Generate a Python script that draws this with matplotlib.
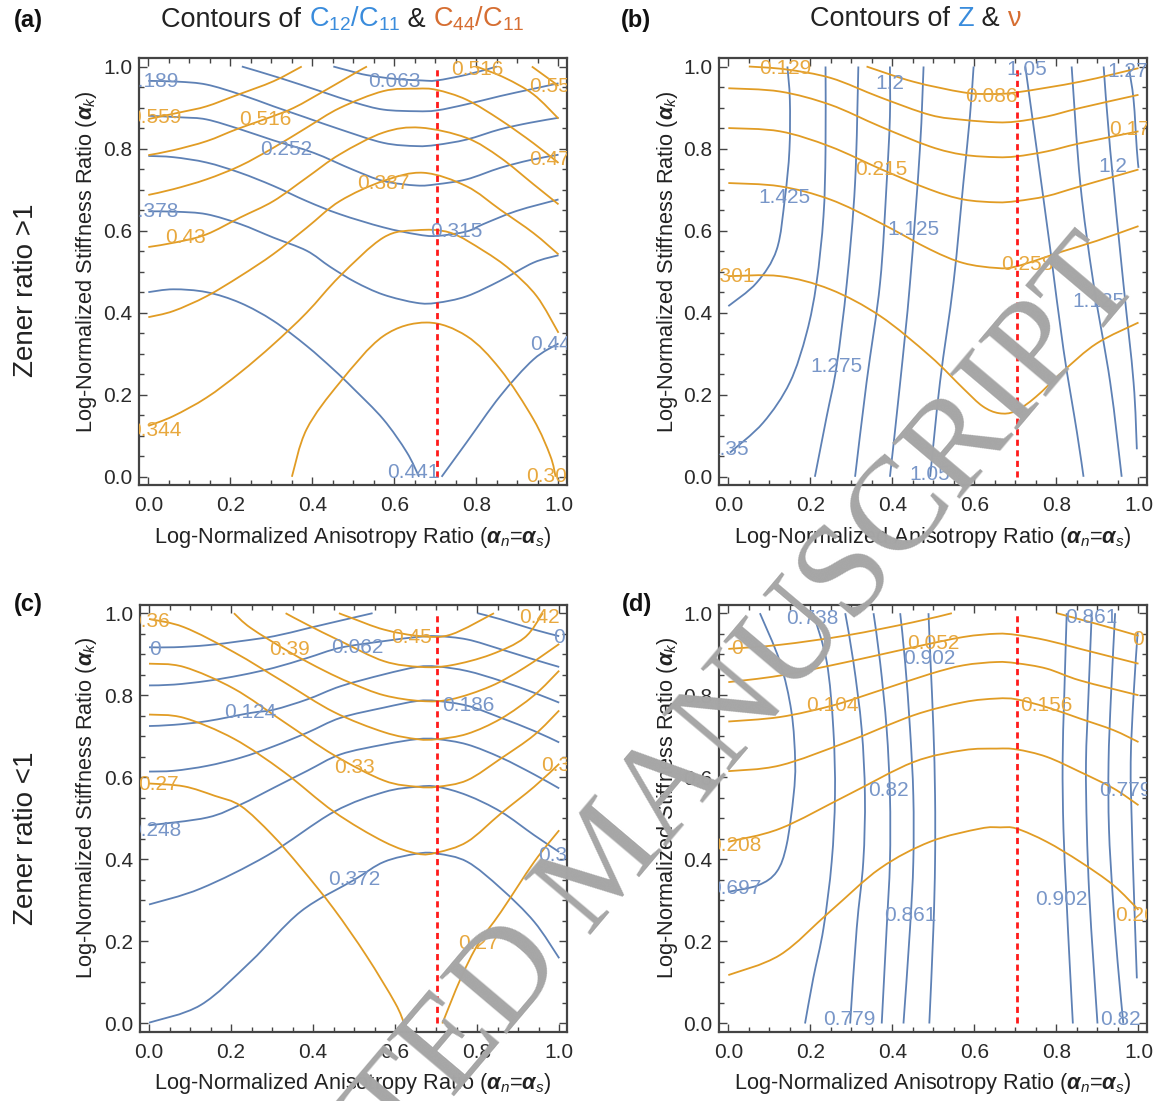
import matplotlib
matplotlib.use("Agg")
import matplotlib.pyplot as plt
import numpy as np
from matplotlib.path import Path
from matplotlib.patches import PathPatch
from matplotlib.offsetbox import TextArea, HPacker, AnnotationBbox

plt.rcParams['font.family'] = ['Liberation Sans', 'DejaVu Sans']
plt.rcParams['mathtext.fontset'] = 'custom'
plt.rcParams['mathtext.rm'] = 'Liberation Sans'
plt.rcParams['mathtext.it'] = 'Liberation Sans:italic'
plt.rcParams['mathtext.bf'] = 'Liberation Sans:bold'
plt.rcParams['mathtext.bfit'] = 'Liberation Sans:italic:bold'

# ---------------- data: panel (a) C12/C11 (blue) ----------------
A_B_0063 = [(0.451, 1.0), (0.492, 0.989), (0.533, 0.979), (0.60, 0.970), (0.667, 0.966), (0.703, 0.966), (0.776, 0.980), (0.85, 1.0)]
A_B_0126 = [(0.228, 1.0), (0.321, 0.972), (0.419, 0.940), (0.504, 0.912), (0.573, 0.895), (0.654, 0.891), (0.703, 0.893), (0.776, 0.908), (0.858, 0.928), (0.931, 0.944), (1.0, 0.959)]
A_B_0189 = [(0.0, 0.965), (0.073, 0.963), (0.142, 0.956), (0.224, 0.932), (0.305, 0.903), (0.386, 0.875), (0.467, 0.847), (0.573, 0.814), (0.654, 0.806), (0.703, 0.809), (0.776, 0.822), (0.858, 0.847), (0.931, 0.863), (1.0, 0.875)]
A_B_0252 = [(0.0, 0.880), (0.081, 0.876), (0.142, 0.871), (0.224, 0.847), (0.305, 0.820), (0.402, 0.790), (0.50, 0.748), (0.573, 0.721), (0.654, 0.710), (0.703, 0.713), (0.776, 0.725), (0.858, 0.753), (0.931, 0.772), (1.0, 0.785)]
A_B_0315 = [(0.0, 0.782), (0.061, 0.779), (0.142, 0.766), (0.224, 0.741), (0.305, 0.709), (0.386, 0.672), (0.467, 0.640), (0.573, 0.608), (0.654, 0.591), (0.703, 0.587), (0.776, 0.598), (0.817, 0.616), (0.898, 0.648), (1.0, 0.676)]
A_B_0378 = [(0.0, 0.647), (0.069, 0.646), (0.142, 0.640), (0.224, 0.616), (0.305, 0.583), (0.386, 0.551), (0.443, 0.512), (0.504, 0.475), (0.573, 0.444), (0.654, 0.424), (0.703, 0.424), (0.776, 0.440), (0.858, 0.478), (0.939, 0.522), (1.0, 0.540)]
A_B_0441_L = [(0.0, 0.450), (0.061, 0.457), (0.142, 0.450), (0.224, 0.424), (0.305, 0.380), (0.386, 0.319), (0.451, 0.262), (0.50, 0.215), (0.573, 0.140), (0.630, 0.060), (0.660, 0.0)]
A_B_0441_R = [(0.715, 0.0), (0.776, 0.084), (0.858, 0.197), (0.939, 0.286), (1.0, 0.325)]
# panel (a) C44/C11 (orange)
A_O_0559_L = [(0.0, 0.872), (0.081, 0.889), (0.142, 0.903), (0.215, 0.930), (0.305, 0.964), (0.374, 1.0)]
A_O_0559_R = [(0.935, 1.0), (1.0, 0.953)]
A_O_0516_L = [(0.0, 0.784), (0.061, 0.796), (0.142, 0.818), (0.215, 0.847), (0.285, 0.872), (0.354, 0.899), (0.435, 0.944), (0.504, 0.984), (0.533, 1.0)]
A_O_0516_R = [(0.80, 1.0), (0.870, 0.972), (0.939, 0.932), (1.0, 0.873)]
A_O_0473 = [(0.0, 0.687), (0.061, 0.701), (0.142, 0.725), (0.224, 0.758), (0.305, 0.802), (0.386, 0.851), (0.467, 0.899), (0.573, 0.940), (0.654, 0.946), (0.703, 0.943), (0.776, 0.919), (0.858, 0.870), (0.939, 0.813), (1.0, 0.765)]
A_O_0430 = [(0.0, 0.560), (0.07, 0.572), (0.142, 0.591), (0.224, 0.632), (0.305, 0.672), (0.386, 0.729), (0.467, 0.786), (0.573, 0.839), (0.663, 0.851), (0.776, 0.826), (0.858, 0.778), (0.939, 0.713), (1.0, 0.664)]
A_O_0387 = [(0.0, 0.389), (0.061, 0.404), (0.142, 0.440), (0.224, 0.489), (0.305, 0.543), (0.386, 0.607), (0.467, 0.672), (0.573, 0.721), (0.671, 0.741), (0.776, 0.708), (0.858, 0.651), (0.939, 0.594), (1.0, 0.542)]
A_O_0344 = [(0.0, 0.124), (0.061, 0.148), (0.142, 0.193), (0.224, 0.254), (0.305, 0.323), (0.386, 0.400), (0.467, 0.489), (0.573, 0.583), (0.654, 0.601), (0.736, 0.595), (0.817, 0.551), (0.882, 0.505), (0.947, 0.440), (1.0, 0.351)]
A_O_0301 = [(0.350, 0.0), (0.386, 0.116), (0.467, 0.230), (0.573, 0.343), (0.679, 0.376), (0.776, 0.343), (0.858, 0.262), (0.939, 0.140), (0.980, 0.051), (0.993, 0.0)]
A_B_LABELS = [("0.063", 0.599, 0.964), ("0.189", 0.010, 0.964), ("0.252", 0.337, 0.798), ("0.378", 0.010, 0.646),
              ("0.315", 0.752, 0.599), ("0.441", 0.646, 0.011), ("0.441", 0.995, 0.323)]
A_O_LABELS = [("0.559", 0.016, 0.875), ("0.516", 0.285, 0.871), ("0.516", 0.802, 0.993), ("0.559", 0.992, 0.952),
              ("0.43", 0.091, 0.583), ("0.387", 0.572, 0.716), ("0.473", 0.992, 0.774), ("0.344", 0.016, 0.112),
              ("0.301", 0.985, 0.0)]

# ---------------- data: panel (b) Z (blue) ----------------
B_B_1425 = [(0.0, 0.416), (0.069, 0.473), (0.118, 0.554), (0.138, 0.680), (0.149, 0.797), (0.150, 0.919), (0.144, 1.0)]
B_B_1350 = [(0.004, 0.059), (0.085, 0.132), (0.150, 0.230), (0.191, 0.351), (0.215, 0.473), (0.232, 0.635), (0.237, 0.797), (0.237, 1.0)]
B_B_1275 = [(0.211, 0.0), (0.240, 0.148), (0.264, 0.270), (0.289, 0.473), (0.309, 0.716), (0.317, 1.0)]
B_B_1200 = [(0.309, 0.0), (0.337, 0.230), (0.370, 0.473), (0.386, 0.716), (0.394, 0.878), (0.394, 1.0)]
B_B_1125 = [(0.394, 0.0), (0.419, 0.230), (0.443, 0.473), (0.467, 0.797), (0.476, 1.0)]
B_B_1050 = [(0.492, 0.0), (0.516, 0.230), (0.549, 0.473), (0.573, 0.716), (0.589, 0.878), (0.598, 1.0)]
B_B_1050R = [(0.724, 1.0), (0.752, 0.797), (0.785, 0.554), (0.817, 0.311), (0.850, 0.108), (0.866, 0.0)]
B_B_1125R = [(0.837, 1.0), (0.858, 0.716), (0.890, 0.473), (0.931, 0.230), (0.959, 0.0)]
B_B_1200R = [(0.915, 1.0), (0.931, 0.797), (0.963, 0.473), (0.988, 0.230), (0.996, 0.067)]
B_B_1275R = [(0.976, 1.0), (0.988, 0.919), (0.996, 0.797), (1.0, 0.753)]
# panel (b) nu (orange)
B_O_0086 = [(0.337, 1.0), (0.451, 0.963), (0.573, 0.937), (0.638, 0.933), (0.703, 0.937), (0.858, 0.963), (1.0, 0.996)]
B_O_0129 = [(0.05, 1.0), (0.14, 0.993), (0.25, 0.972), (0.37, 0.925), (0.492, 0.882), (0.573, 0.870), (0.654, 0.864), (0.703, 0.866), (0.776, 0.878), (0.858, 0.899), (1.0, 0.931)]
B_O_0172 = [(0.0, 0.947), (0.126, 0.939), (0.248, 0.907), (0.370, 0.854), (0.492, 0.805), (0.573, 0.785), (0.654, 0.779), (0.703, 0.781), (0.776, 0.793), (0.858, 0.813), (1.0, 0.842)]
B_O_0215 = [(0.0, 0.850), (0.126, 0.842), (0.248, 0.805), (0.374, 0.749), (0.492, 0.700), (0.573, 0.676), (0.654, 0.669), (0.703, 0.672), (0.776, 0.684), (0.858, 0.708), (1.0, 0.749)]
B_O_0258 = [(0.0, 0.716), (0.126, 0.708), (0.248, 0.676), (0.370, 0.619), (0.492, 0.554), (0.573, 0.521), (0.654, 0.509), (0.703, 0.513), (0.817, 0.550), (0.898, 0.575), (1.0, 0.611)]
B_O_0301 = [(0.0, 0.489), (0.126, 0.489), (0.248, 0.457), (0.370, 0.392), (0.492, 0.294), (0.573, 0.215), (0.620, 0.172), (0.660, 0.155), (0.700, 0.160), (0.750, 0.195), (0.817, 0.258), (0.898, 0.325), (1.0, 0.376)]
B_B_LABELS = [("1.425", 0.138, 0.680), ("1.35", 0.002, 0.067), ("1.275", 0.264, 0.270), ("1.2", 0.394, 0.959),
              ("1.125", 0.451, 0.603), ("1.05", 0.492, 0.006), ("1.05", 0.728, 0.992), ("1.125", 0.902, 0.428),
              ("1.2", 0.937, 0.757), ("1.275", 0.988, 0.988)]
B_O_LABELS = [("0.129", 0.140, 0.996), ("0.086", 0.642, 0.927), ("0.172", 0.992, 0.846), ("0.215", 0.374, 0.749),
              ("0.258", 0.728, 0.517), ("0.301", 0.0, 0.489)]

# ---------------- data: panel (c) C12/C11 (blue) ----------------
C_B_0000_L = [(0.0, 0.917), (0.061, 0.917), (0.142, 0.922), (0.224, 0.932), (0.305, 0.944), (0.386, 0.963), (0.467, 0.982), (0.545, 1.0)]
C_B_0000_R = [(0.801, 1.0), (0.858, 0.985), (0.939, 0.960), (1.0, 0.944)]
C_B_0062 = [(0.0, 0.824), (0.061, 0.826), (0.142, 0.835), (0.224, 0.849), (0.305, 0.867), (0.386, 0.891), (0.467, 0.916), (0.573, 0.932), (0.654, 0.942), (0.703, 0.944), (0.776, 0.936), (0.858, 0.912), (0.939, 0.887), (1.0, 0.869)]
C_B_0124 = [(0.0, 0.725), (0.061, 0.728), (0.142, 0.737), (0.248, 0.757), (0.305, 0.765), (0.386, 0.790), (0.467, 0.822), (0.573, 0.851), (0.654, 0.869), (0.703, 0.870), (0.776, 0.859), (0.858, 0.835), (0.939, 0.806), (1.0, 0.782)]
C_B_0186 = [(0.0, 0.614), (0.061, 0.616), (0.142, 0.628), (0.224, 0.648), (0.305, 0.676), (0.386, 0.709), (0.467, 0.745), (0.573, 0.770), (0.654, 0.786), (0.703, 0.786), (0.778, 0.774), (0.858, 0.745), (0.939, 0.713), (1.0, 0.685)]
C_B_0248 = [(0.0, 0.483), (0.142, 0.502), (0.224, 0.534), (0.305, 0.575), (0.386, 0.616), (0.467, 0.656), (0.573, 0.680), (0.654, 0.693), (0.703, 0.693), (0.776, 0.680), (0.858, 0.648), (0.939, 0.607), (1.0, 0.573)]
C_B_0310 = [(0.0, 0.290), (0.126, 0.329), (0.289, 0.410), (0.451, 0.516), (0.573, 0.564), (0.654, 0.577), (0.703, 0.577), (0.776, 0.556), (0.858, 0.516), (0.939, 0.459), (1.0, 0.418)]
C_B_0372 = [(0.0, 0.002), (0.126, 0.045), (0.248, 0.151), (0.370, 0.273), (0.500, 0.350), (0.573, 0.394), (0.654, 0.414), (0.703, 0.414), (0.776, 0.394), (0.858, 0.329), (0.939, 0.248), (1.0, 0.159)]
# panel (c) C44/C11 (orange)
C_O_0450 = [(0.463, 1.0), (0.492, 0.989), (0.573, 0.960), (0.663, 0.944), (0.736, 0.948), (0.841, 1.0)]
C_O_0420 = [(0.333, 1.0), (0.386, 0.972), (0.467, 0.932), (0.573, 0.883), (0.663, 0.869), (0.736, 0.873), (0.833, 0.899), (0.915, 0.940), (0.96, 1.0)]
C_O_0390 = [(0.207, 1.0), (0.248, 0.964), (0.343, 0.905), (0.427, 0.860), (0.492, 0.830), (0.573, 0.800), (0.663, 0.786), (0.736, 0.790), (0.833, 0.822), (0.915, 0.867), (1.0, 0.925)]
C_O_0360 = [(0.0, 0.986), (0.085, 0.966), (0.207, 0.905), (0.329, 0.832), (0.451, 0.759), (0.573, 0.710), (0.654, 0.693), (0.703, 0.693), (0.776, 0.706), (0.858, 0.743), (0.939, 0.800), (1.0, 0.860)]
C_O_0330 = [(0.0, 0.877), (0.085, 0.869), (0.207, 0.816), (0.329, 0.735), (0.451, 0.654), (0.573, 0.592), (0.654, 0.577), (0.703, 0.577), (0.776, 0.593), (0.858, 0.646), (0.939, 0.703), (1.0, 0.763)]
C_O_0300 = [(0.0, 0.753), (0.085, 0.745), (0.207, 0.694), (0.329, 0.613), (0.451, 0.516), (0.573, 0.443), (0.654, 0.414), (0.703, 0.417), (0.776, 0.443), (0.858, 0.512), (0.939, 0.577), (1.0, 0.633)]
C_O_0270_L = [(0.0, 0.585), (0.085, 0.578), (0.16, 0.555), (0.224, 0.530), (0.30, 0.460), (0.37, 0.380), (0.45, 0.280), (0.53, 0.165), (0.60, 0.050), (0.622, 0.0)]
C_O_0270_R = [(0.715, 0.0), (0.760, 0.110), (0.803, 0.195), (0.858, 0.272), (0.939, 0.394), (1.0, 0.471)]
C_B_LABELS = [("0", 0.014, 0.912), ("0", 1.0, 0.940), ("0.062", 0.508, 0.917), ("0.124", 0.248, 0.757),
              ("0.186", 0.778, 0.774), ("0.248", 0.016, 0.471), ("0.31", 0.998, 0.410), ("0.372", 0.500, 0.350)]
C_O_LABELS = [("0.36", 0.002, 0.981), ("0.39", 0.343, 0.912), ("0.45", 0.640, 0.940), ("0.42", 0.953, 0.989),
              ("0.33", 0.500, 0.625), ("0.27", 0.022, 0.583), ("0.27", 0.803, 0.195), ("0.3", 0.992, 0.629)]

# ---------------- data: panel (d) Z (blue) ----------------
D_B_0697 = [(0.077, 1.0), (0.126, 0.881), (0.154, 0.759), (0.163, 0.637), (0.159, 0.556), (0.142, 0.435), (0.118, 0.370), (0.073, 0.337), (0.0, 0.321)]
D_B_0738 = [(0.207, 1.0), (0.240, 0.881), (0.256, 0.718), (0.260, 0.556), (0.252, 0.394), (0.232, 0.232), (0.207, 0.110), (0.187, 0.0)]
D_B_0779 = [(0.285, 1.0), (0.305, 0.881), (0.325, 0.718), (0.333, 0.556), (0.329, 0.394), (0.313, 0.232), (0.297, 0.0)]
D_B_0820 = [(0.354, 1.0), (0.370, 0.881), (0.386, 0.718), (0.394, 0.556), (0.394, 0.394), (0.386, 0.232), (0.374, 0.0)]
D_B_0861 = [(0.419, 1.0), (0.431, 0.881), (0.443, 0.718), (0.451, 0.556), (0.451, 0.394), (0.443, 0.232), (0.427, 0.0)]
D_B_0902 = [(0.488, 1.0), (0.493, 0.881), (0.500, 0.718), (0.504, 0.556), (0.504, 0.394), (0.500, 0.232), (0.490, 0.0)]
D_B_0902R = [(0.825, 1.0), (0.819, 0.800), (0.815, 0.637), (0.817, 0.475), (0.824, 0.313), (0.832, 0.151), (0.840, 0.0)]
D_B_0861R = [(0.886, 1.0), (0.878, 0.800), (0.872, 0.637), (0.874, 0.475), (0.880, 0.313), (0.890, 0.151), (0.900, 0.0)]
D_B_0820R = [(0.943, 1.0), (0.933, 0.800), (0.927, 0.637), (0.928, 0.475), (0.937, 0.313), (0.949, 0.151), (0.963, 0.0)]
D_B_0779R = [(0.998, 0.954), (0.988, 0.800), (0.981, 0.637), (0.984, 0.475), (0.989, 0.313), (0.996, 0.110)]
# panel (d) nu (orange)
D_O_0000_L = [(0.0, 0.913), (0.126, 0.923), (0.289, 0.946), (0.451, 0.978), (0.545, 1.0)]
D_O_0000_R = [(0.801, 1.0), (0.898, 0.974), (1.0, 0.945)]
D_O_0052 = [(0.0, 0.832), (0.126, 0.848), (0.289, 0.881), (0.451, 0.917), (0.573, 0.942), (0.654, 0.950), (0.703, 0.947), (0.776, 0.934), (0.858, 0.913), (1.0, 0.877)]
D_O_0104 = [(0.0, 0.736), (0.126, 0.747), (0.254, 0.775), (0.370, 0.812), (0.492, 0.852), (0.573, 0.873), (0.654, 0.881), (0.703, 0.878), (0.776, 0.865), (0.858, 0.836), (1.0, 0.800)]
D_O_0156 = [(0.0, 0.615), (0.126, 0.629), (0.289, 0.686), (0.451, 0.751), (0.573, 0.783), (0.654, 0.792), (0.703, 0.790), (0.776, 0.771), (0.858, 0.743), (0.939, 0.715), (1.0, 0.686)]
D_O_0208 = [(0.0, 0.443), (0.126, 0.475), (0.289, 0.556), (0.451, 0.637), (0.573, 0.666), (0.654, 0.670), (0.703, 0.668), (0.776, 0.650), (0.858, 0.613), (0.939, 0.573), (1.0, 0.532)]
D_O_0260 = [(0.0, 0.118), (0.126, 0.167), (0.248, 0.273), (0.370, 0.378), (0.492, 0.443), (0.614, 0.475), (0.663, 0.478), (0.703, 0.475), (0.776, 0.443), (0.858, 0.394), (0.939, 0.337), (1.0, 0.277)]
D_B_LABELS = [("0.697", 0.016, 0.329), ("0.738", 0.205, 0.986), ("0.779", 0.294, 0.009), ("0.82", 0.390, 0.569),
              ("0.861", 0.443, 0.264), ("0.902", 0.489, 0.889), ("0.902", 0.811, 0.301), ("0.861", 0.886, 0.990),
              ("0.82", 0.955, 0.009), ("0.779", 0.967, 0.569)]
D_O_LABELS = [("0", 0.020, 0.913), ("0", 1.0, 0.937), ("0.052", 0.500, 0.925), ("0.104", 0.254, 0.775),
              ("0.156", 0.776, 0.775), ("0.208", 0.016, 0.435), ("0.26", 0.993, 0.264)]

RED_LINE_X = 0.703
TICKS = [0.0, 0.2, 0.4, 0.6, 0.8, 1.0]
TICK_LABELS = ["0.0", "0.2", "0.4", "0.6", "0.8", "1.0"]

# ---------------- styles ----------------
BLUE = '#5E81B5'
ORANGE = '#E19C24'
BLUE_TXT = '#7896C8'
ORANGE_TXT = '#E8A83E'
TITLE_BLUE = '#3A8CDC'
TITLE_ORANGE = '#D66E32'
FS_LBL = 15


def smooth_path(pts):
    p = np.asarray(pts, float)
    n = len(p)
    verts = [p[0]]
    codes = [Path.MOVETO]
    for i in range(n - 1):
        p0 = p[i - 1] if i > 0 else p[i]
        p1 = p[i]
        p2 = p[i + 1]
        p3 = p[i + 2] if i + 2 < n else p[i + 1]
        verts += [p1 + (p2 - p0) / 6.0, p2 - (p3 - p1) / 6.0, p2]
        codes += [Path.CURVE4] * 3
    return Path(verts, codes)


def draw_panel(ax, blue_curves, orange_curves, blue_labels, orange_labels):
    for c in blue_curves:
        ax.add_patch(PathPatch(smooth_path(c), fill=False, edgecolor=BLUE, lw=1.3, zorder=2))
    for c in orange_curves:
        ax.add_patch(PathPatch(smooth_path(c), fill=False, edgecolor=ORANGE, lw=1.3, zorder=2))
    ax.plot([RED_LINE_X, RED_LINE_X], [0.0, 1.0], color='#FF1A1A', lw=2.0, ls=(0, (2.2, 1.6)), zorder=3)
    for t, x, y in blue_labels:
        ax.text(x, y, t, color=BLUE_TXT, fontsize=FS_LBL, ha='center', va='center', clip_on=True, zorder=4)
    for t, x, y in orange_labels:
        ax.text(x, y, t, color=ORANGE_TXT, fontsize=FS_LBL, ha='center', va='center', clip_on=True, zorder=4)
    ax.set_xlim(-0.022, 1.02)
    ax.set_ylim(-0.02, 1.02)
    ax.set_xticks(TICKS)
    ax.set_xticklabels(TICK_LABELS)
    ax.set_yticks(TICKS)
    ax.set_yticklabels(TICK_LABELS)
    ax.set_xticks(np.arange(0, 1.0001, 0.05), minor=True)
    ax.set_yticks(np.arange(0, 1.0001, 0.05), minor=True)
    ax.tick_params(which='both', direction='in', top=True, right=True, color='#444444', width=1.0)
    ax.tick_params(which='major', length=6, labelsize=15, labelcolor='#2a2a2a')
    ax.tick_params(axis='x', which='major', pad=8)
    ax.tick_params(axis='y', which='major', pad=5)
    ax.tick_params(which='minor', length=3.5)
    for s in ax.spines.values():
        s.set_linewidth(1.6)
        s.set_color('#444444')


W, H = 1158, 1101
fig = plt.figure(figsize=(W / 100, H / 100), dpi=100)

pos = {
    'a': [139.3 / W, 1 - 485 / H, 427.4 / W, 426.7 / H],
    'b': [719.3 / W, 1 - 485 / H, 427.4 / W, 426.7 / H],
    'c': [140.0 / W, 1 - 1031.7 / H, 427.4 / W, 426.7 / H],
    'd': [719.3 / W, 1 - 1031.7 / H, 427.4 / W, 426.7 / H],
}
axa = fig.add_axes(pos['a'])
axb = fig.add_axes(pos['b'])
axc = fig.add_axes(pos['c'])
axd = fig.add_axes(pos['d'])

draw_panel(axa, [A_B_0063, A_B_0126, A_B_0189, A_B_0252, A_B_0315, A_B_0378, A_B_0441_L, A_B_0441_R],
           [A_O_0559_L, A_O_0559_R, A_O_0516_L, A_O_0516_R, A_O_0473, A_O_0430, A_O_0387, A_O_0344, A_O_0301],
           A_B_LABELS, A_O_LABELS)
draw_panel(axb, [B_B_1425, B_B_1350, B_B_1275, B_B_1200, B_B_1125, B_B_1050, B_B_1050R, B_B_1125R, B_B_1200R, B_B_1275R],
           [B_O_0086, B_O_0129, B_O_0172, B_O_0215, B_O_0258, B_O_0301],
           B_B_LABELS, B_O_LABELS)
draw_panel(axc, [C_B_0000_L, C_B_0000_R, C_B_0062, C_B_0124, C_B_0186, C_B_0248, C_B_0310, C_B_0372],
           [C_O_0450, C_O_0420, C_O_0390, C_O_0360, C_O_0330, C_O_0300, C_O_0270_L, C_O_0270_R],
           C_B_LABELS, C_O_LABELS)
draw_panel(axd, [D_B_0697, D_B_0738, D_B_0779, D_B_0820, D_B_0861, D_B_0902, D_B_0902R, D_B_0861R, D_B_0820R, D_B_0779R],
           [D_O_0000_L, D_O_0000_R, D_O_0052, D_O_0104, D_O_0156, D_O_0208, D_O_0260],
           D_B_LABELS, D_O_LABELS)


def fx(px):
    return px / W


def fy(py):
    return 1 - py / H


XLABEL = r'Log-Normalized Anisotropy Ratio ($\mathbfit{\alpha}_n$=$\mathbfit{\alpha}_s$)'
YLABEL = r'Log-Normalized Stiffness Ratio ($\mathbfit{\alpha}_k$)'
for cx in (353, 933):
    for cy in (537, 1083):
        fig.text(fx(cx), fy(cy), XLABEL, ha='center', va='center', fontsize=15.7, color='#222222')
for cx in (87, 667):
    for cy in (262, 808):
        fig.text(fx(cx), fy(cy), YLABEL, ha='center', va='center', rotation=90, fontsize=15.7, color='#222222')

fig.text(fx(26), fy(290), 'Zener ratio >1', rotation=90, ha='center', va='center', fontsize=20, color='#222222')
fig.text(fx(26), fy(838), 'Zener ratio <1', rotation=90, ha='center', va='center', fontsize=20, color='#222222')

for lab, px, py in (('(a)', 28, 21), ('(b)', 636, 21), ('(c)', 28, 605), ('(d)', 637, 605)):
    fig.text(fx(px), fy(py), lab, ha='center', va='center', fontsize=17, fontweight='bold', color='#111111')

TS = 19.5


def title(parts, cx, cy):
    boxes = [TextArea(t, textprops=dict(color=c, fontsize=TS)) for t, c in parts]
    pk = HPacker(children=boxes, align='baseline', pad=0, sep=0)
    ab = AnnotationBbox(pk, (fx(cx), fy(cy)), xycoords='figure fraction', frameon=False, box_alignment=(0.5, 0.5))
    fig.add_artist(ab)


title([('Contours of ', '#222222'), (r'C$_{12}$/C$_{11}$', TITLE_BLUE), (' & ', '#222222'),
       (r'C$_{44}$/C$_{11}$', TITLE_ORANGE)], 343, 19)
title([('Contours of ', '#222222'), ('Z', TITLE_BLUE), (' & ', '#222222'), ('ν', TITLE_ORANGE)], 915, 19)

fig.text(fx(608), fy(864), 'ACCEPTED MANUSCRIPT', rotation=49.8, ha='center', va='center',
         fontsize=96, family='Liberation Serif', color='#a6a6a6', zorder=10)

fig.savefig('out.png', dpi=100)
